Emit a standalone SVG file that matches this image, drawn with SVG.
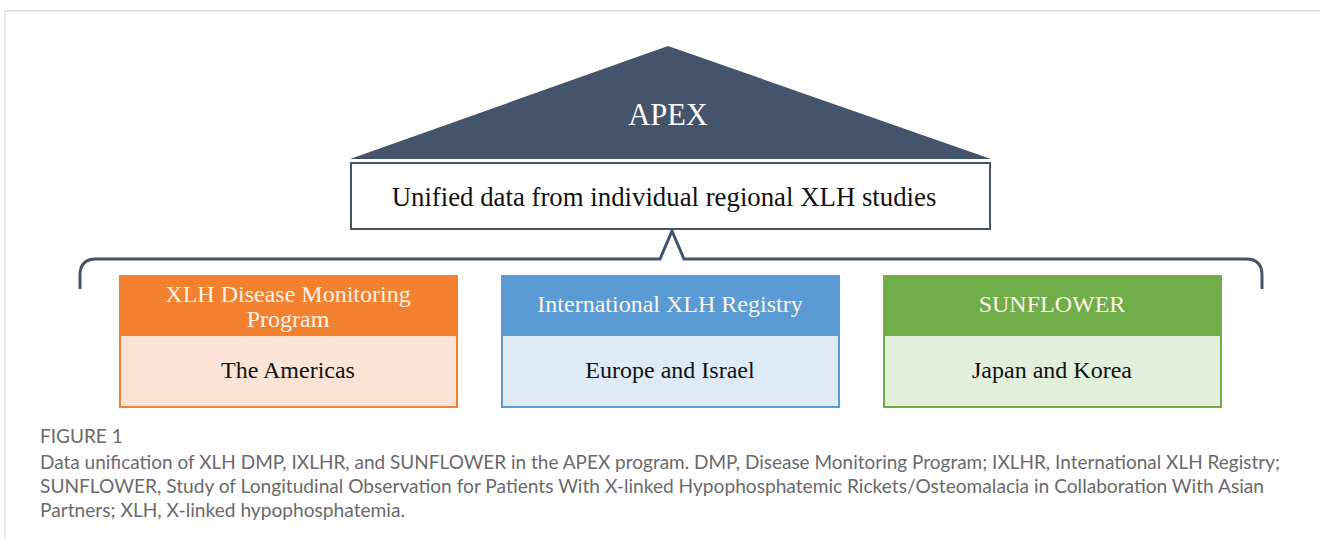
<svg xmlns="http://www.w3.org/2000/svg" width="1320" height="539" viewBox="0 0 1320 539">
  <style>
    .serif { font-family: "Liberation Serif", "Times New Roman", serif; }
    .head { font-size: 24px; fill: #fdf3ea; text-anchor: middle; }
    .body { font-size: 24px; fill: #111111; text-anchor: middle; }
    .cap { font-family: Lato, "Open Sans", "Liberation Sans", sans-serif; fill: #6a6a6a; font-size: 19px; font-weight: 400; }
    .slate { fill: #44546a; }
    .conn { fill: none; stroke: #44546a; stroke-width: 3; stroke-linejoin: miter; }
  </style>

  <rect width="1320" height="539" fill="#ffffff"/>
  <!-- page frame -->
  <line x1="4" y1="11" x2="1320" y2="11" stroke="#e2e2e2" stroke-width="2"/>
  <line x1="5" y1="11" x2="5" y2="539" stroke="#e2e2e2" stroke-width="1.5"/>

  <!-- roof -->
  <g id="apex">
    <polygon class="slate" points="668,46 991,159 350,159"/>
    <text x="668" y="125" class="serif" font-size="30.5" fill="#ffffff" text-anchor="middle">APEX</text>
  </g>

  <!-- unified data box -->
  <g id="unified">
    <rect x="351" y="163" width="639" height="66" fill="#ffffff" stroke="#44546a" stroke-width="2"/>
    <text x="664" y="206" class="serif" font-size="26.8" fill="#111111" text-anchor="middle">Unified data from individual regional XLH studies</text>
  </g>

  <!-- bracket linking the studies to the unified data -->
  <g id="connectors">
    <path class="conn" d="M80,289 V275 Q80,259 96,259 H660 L672,231 L684,259 H1246 Q1262,259 1262,275 V289"/>
  </g>

  <g id="dmp">
    <rect x="120" y="276" width="337" height="131" fill="#fbe4d6" stroke="#f4812f" stroke-width="2"/>
    <rect x="120" y="276" width="337" height="60" fill="#f4812f"/>
    <text x="288" y="302" class="serif head">XLH Disease Monitoring</text>
    <text x="288" y="327" class="serif head">Program</text>
    <text x="288" y="378" class="serif body">The Americas</text>
  </g>

  <g id="ixlhr">
    <rect x="502" y="276" width="337" height="131" fill="#deebf7" stroke="#5b9bd5" stroke-width="2"/>
    <rect x="502" y="276" width="337" height="60" fill="#5b9bd5"/>
    <text x="670" y="312" class="serif head">International XLH Registry</text>
    <text x="670" y="378" class="serif body">Europe and Israel</text>
  </g>

  <g id="sunflower">
    <rect x="884" y="276" width="337" height="131" fill="#e2efda" stroke="#70ad47" stroke-width="2"/>
    <rect x="884" y="276" width="337" height="60" fill="#70ad47"/>
    <text x="1052" y="312" class="serif head">SUNFLOWER</text>
    <text x="1052" y="378" class="serif body">Japan and Korea</text>
  </g>

  <!-- caption -->
  <g id="caption">
    <text x="40" y="443" class="cap" font-size="13.5" font-weight="700" fill="#666666">FIGURE 1</text>
    <text x="40" y="469" class="cap" textLength="1240" lengthAdjust="spacingAndGlyphs">Data unification of XLH DMP, IXLHR, and SUNFLOWER in the APEX program. DMP, Disease Monitoring Program; IXLHR, International XLH Registry;</text>
    <text x="40" y="493" class="cap" textLength="1224" lengthAdjust="spacingAndGlyphs">SUNFLOWER, Study of Longitudinal Observation for Patients With X-linked Hypophosphatemic Rickets/Osteomalacia in Collaboration With Asian</text>
    <text x="40" y="517" class="cap" textLength="365" lengthAdjust="spacingAndGlyphs">Partners; XLH, X-linked hypophosphatemia.</text>
  </g>
</svg>
